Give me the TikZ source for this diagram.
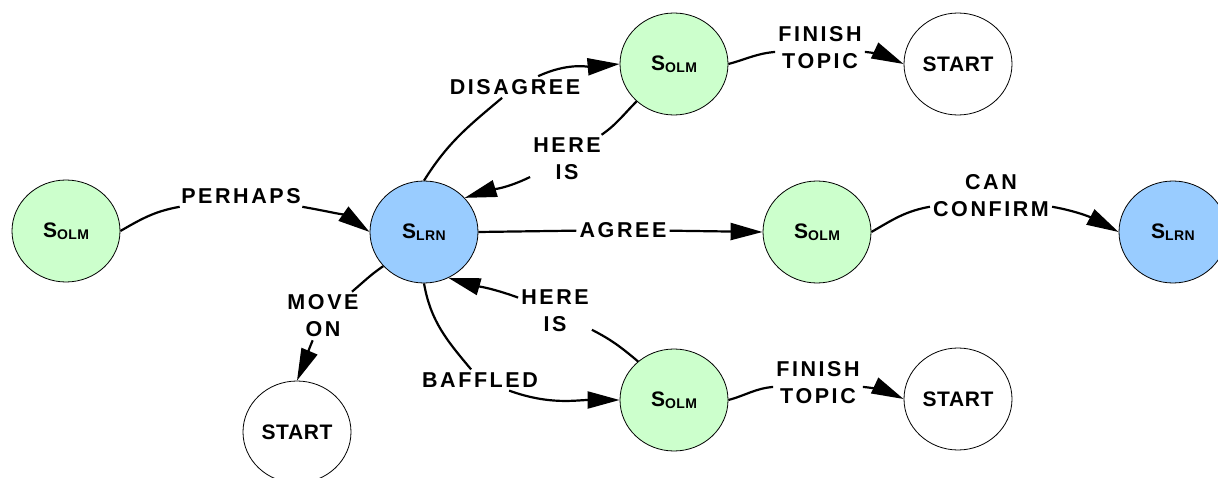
\documentclass[tikz,border=0pt]{standalone}
\usepackage{fontspec}
\setmainfont{Liberation Sans}
\newfontfamily\lblfont[LetterSpace=12]{Liberation Sans}
\newfontfamily\nodefont[LetterSpace=3]{Liberation Sans}
\usetikzlibrary{shapes.geometric,arrows.meta}
\definecolor{olmgreen}{HTML}{CCFFCC}
\definecolor{lrnblue}{HTML}{99CCFF}
\newcommand{\Solm}{{\fontsize{21}{21}\selectfont S}\raisebox{-1.5pt}{\fontsize{14}{14}\selectfont OLM}}
\newcommand{\Slrn}{{\fontsize{21}{21}\selectfont S}\raisebox{-1.5pt}{\fontsize{14}{14}\selectfont LRN}}
\begin{document}
\begin{tikzpicture}[x=1pt,y=1pt,
  state/.style={ellipse, draw=black, line width=0.8pt, minimum width=108pt, minimum height=102pt, inner sep=0pt, font=\nodefont\bfseries\fontsize{21}{21}\selectfont},
  olm/.style={state, fill=olmgreen},
  lrn/.style={state, fill=lrnblue},
  endst/.style={state, fill=white},
  lbl/.style={inner sep=3pt, align=center, font=\lblfont\bfseries\fontsize{21.5}{27}\selectfont},
  conn/.style={line width=2.2pt},
  arr/.style={conn, -{Triangle[length=32pt,width=17pt]}}]
\useasboundingbox (0,0) rectangle (1218,-478);
% states
\node[olm] (olm1) at (66,-231) {\Solm};
\node[lrn] (lrn1) at (424,-232) {\Slrn};
\node[olm] (olmt) at (674,-64) {\Solm};
\node[endst] (st1) at (958,-64) {START};
\node[olm] (olm2) at (817,-232) {\Solm};
\node[lrn] (lrn2) at (1173,-232) {\Slrn};
\node[olm] (olm3) at (674,-400) {\Solm};
\node[endst] (st2) at (958,-399) {START};
\node[endst] (st3) at (297,-432) {START};
% labels
\node[lbl] (lp) at (241,-196) {PERHAPS};
\node[lbl] (ld) at (515,-87) {DISAGREE};
\node[lbl] (lh1) at (567,-159) {HERE\\IS};
\node[lbl] (la) at (623,-230) {AGREE};
\node[lbl] (lc) at (991,-196) {CAN\\CONFIRM};
\node[lbl] (lf1) at (820,-48) {FINISH\\TOPIC};
\node[lbl] (lf2) at (818,-383) {FINISH\\TOPIC};
\node[lbl] (lm) at (323,-316) {MOVE\\ON};
\node[lbl] (lb) at (480,-380) {BAFFLED};
\node[lbl] (lh2) at (555,-311) {HERE\\IS};
% connectors
\draw[conn] (olm1.east) to[out=30,in=190] (lp);
\draw[arr] (lp) to[out=-10,in=145] (lrn1.west);
\draw[conn] (lrn1.north) to[out=58,in=220] (ld);
\draw[arr] (ld) to[out=25,in=185] (olmt.west);
\draw[conn] (olmt) to[out=225,in=35] (lh1);
\draw[arr] (lh1) to[out=206,in=17] (lrn1.40);
\draw[conn] (lrn1.east) -- (la);
\draw[arr] (la) -- (olm2.west);
\draw[conn] (olm2.east) to[out=30,in=190] (lc);
\draw[arr] (lc) to[out=-10,in=152] (lrn2.west);
\draw[conn] (olmt.east) to[out=15,in=185] (lf1);
\draw[arr] (lf1) to[out=-5,in=155] (st1.west);
\draw[conn] (olm3.east) to[out=15,in=185] (lf2);
\draw[arr] (lf2) to[out=-5,in=155] (st2.west);
\draw[conn] (lrn1.220) to[out=214,in=40] (lm);
\draw[arr] (lm) to[out=247,in=67] (st3.north);
\draw[conn] (lrn1.south) to[out=-80,in=130] (lb);
\draw[arr] (lb) to[out=-20,in=180] (olm3.west);
\draw[conn] (olm3.133) to[out=140,in=333] (lh2);
\draw[arr] (lh2) to[out=160,in=-16] (lrn1.298);
\end{tikzpicture}
\end{document}
